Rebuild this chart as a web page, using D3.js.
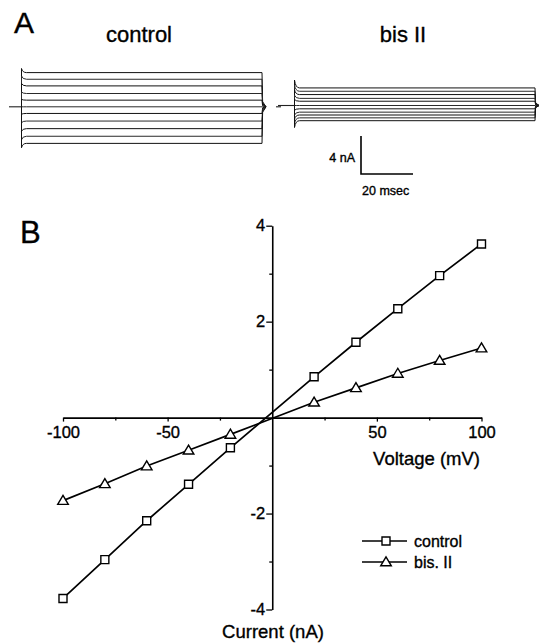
<!DOCTYPE html>
<html><head><meta charset="utf-8">
<script src="https://cdn.jsdelivr.net/npm/d3@7"></script>
<style>
body{margin:0;background:#fff}
svg{display:block}
text{font-family:"Liberation Sans",Arial,Helvetica,sans-serif;fill:#000;stroke:#000;stroke-width:0.35px}
</style>
</head><body>
<svg id="c" width="541" height="644"></svg>
<script>
// ---------- data ----------
const voltages = [-100, -80, -60, -40, -20, 20, 40, 60, 80, 100];
const controlCurrent = [-3.77, -2.96, -2.15, -1.39, -0.63, 0.85, 1.57, 2.27, 2.96, 3.62];
const bisCurrent = [-1.73, -1.38, -1.01, -0.68, -0.35, 0.32, 0.62, 0.92, 1.19, 1.45];
const seriesNames = ["control", "bis. II"];
const xTickValues = [-100, -50, 50, 100];
const xMinorTickValues = [-75, -25, 25, 75];
const yTickValues = [-4, -2, 2, 4];
const yMinorTickValues = [-3, -1, 1, 3];
const xTitle = "Voltage (mV)";
const yTitle = "Current (nA)";

// current traces (panel A), steady-state level of each voltage step, nA
const traceSteps = [100, 80, 60, 40, 20, 0, -20, -40, -60, -80, -100];
const controlTrace = [3.6, 2.9, 2.2, 1.4, 0.7, 0, -0.7, -1.5, -2.3, -3.1, -3.85];
const bisTrace = [1.85, 1.5, 1.15, 0.75, 0.45, 0, -0.35, -0.7, -1.0, -1.3, -1.6];
const traceTitles = ["control", "bis II"];
const stepDuration = [0, 92.5];   // ms
const scaleBarNA = 4;
const scaleBarMs = 20;

// ---------- drawing ----------
const svg = d3.select("#c");

// panel letters
svg.append("text").attr("x", 14).attr("y", 33).attr("font-size", 30).text("A");
svg.append("text").attr("x", 20).attr("y", 243).attr("font-size", 31).text("B");

// ----- panel A -----
const pxPerNA = 9.5;
const pxPerMs = 2.6;
function tracePanel(data, x0, holdY, spikeK, preLeft, postDash) {
  const t = d3.scaleLinear().domain(stepDuration).range([x0, x0 + (stepDuration[1]-stepDuration[0]) * pxPerMs]);
  const yT = d3.scaleLinear().domain([-1, 1]).range([holdY + pxPerNA, holdY - pxPerNA]);
  const g = svg.append("g");
  const xs = t(stepDuration[0]), xe = t(stepDuration[1]);
  g.append("line").attr("x1", preLeft).attr("x2", xs).attr("y1", yT(0)).attr("y2", yT(0))
    .attr("stroke", "#222").attr("stroke-width", 1.1);
  data.forEach((v, i) => {
    const ly = yT(v), sy = yT(v * spikeK);
    const p = d3.path();
    p.moveTo(xs, yT(0));
    p.lineTo(xs, sy);
    p.quadraticCurveTo(xs + 1, ly, xs + 5, ly);
    p.lineTo(xe, ly);
    p.lineTo(xe + 0.6, ly + (yT(0) - ly) * 0.85);
    p.lineTo(xe + 4, yT(0));
    g.append("path").attr("d", p.toString()).attr("fill", "none")
      .attr("stroke", i % 2 ? "#2a2a2a" : "#111").attr("stroke-width", 1);
  });
  if (postDash) {
    g.append("line").attr("x1", xe + 14).attr("x2", xe + 19).attr("y1", yT(0)).attr("y2", yT(0))
      .attr("stroke", "#222").attr("stroke-width", 1.1);
  }
}
tracePanel(controlTrace, 21.5, 106.8, 1.12, 9, true);
tracePanel(bisTrace, 294.5, 105.5, 1.45, 278, false);

svg.append("text").attr("x", 139).attr("y", 42).attr("font-size", 22).attr("text-anchor", "middle").text(traceTitles[0]);
svg.append("text").attr("x", 403).attr("y", 42).attr("font-size", 22).attr("text-anchor", "middle").text(traceTitles[1]);

// scale bar
{
  const bx = 361, by = 174;
  const sv = d3.scaleLinear().domain([0, scaleBarNA]).range([by, by - scaleBarNA * pxPerNA]);
  const sh = d3.scaleLinear().domain([0, scaleBarMs]).range([bx, bx + scaleBarMs * pxPerMs]);
  svg.append("path").attr("d", `M${bx},${sv(scaleBarNA)}V${sv(0)}H${sh(scaleBarMs)}`)
    .attr("fill", "none").attr("stroke", "#000").attr("stroke-width", 1.6);
  svg.append("text").attr("x", bx - 6).attr("y", 162).attr("font-size", 12.5).attr("text-anchor", "end").text(scaleBarNA + " nA");
  svg.append("text").attr("x", bx + 1).attr("y", 195).attr("font-size", 12.5).text(scaleBarMs + " msec");
}

// ----- panel B -----
const x = d3.scaleLinear().domain([-100, 100]).range([63, 481.5]);
const y = d3.scaleLinear().domain([-4, 4]).range([609.5, 225.7]);

const xAxis = svg.append("g").attr("transform", `translate(0,${y(0)})`)
  .call(d3.axisBottom(x).tickValues(xTickValues).tickSize(4).tickSizeOuter(0).tickPadding(5).tickFormat(d3.format("d")));
svg.append("g").attr("transform", `translate(0,${y(0)})`)
  .call(d3.axisBottom(x).tickValues(xMinorTickValues).tickSize(3).tickSizeOuter(0).tickFormat(""))
  .select(".domain").remove();
const yAxis = svg.append("g").attr("transform", `translate(${x(0)},0)`)
  .call(d3.axisLeft(y).tickValues(yTickValues).tickSize(6).tickSizeOuter(0).tickPadding(1).tickFormat(d3.format("d")));
svg.append("g").attr("transform", `translate(${x(0)},0)`)
  .call(d3.axisLeft(y).tickValues(yMinorTickValues).tickSize(3).tickSizeOuter(0).tickFormat(""))
  .select(".domain").remove();
svg.selectAll(".domain").attr("stroke", "#000").attr("stroke-width", 1.6);
svg.selectAll(".tick line").attr("stroke", "#000").attr("stroke-width", 1.3);
xAxis.selectAll("text").attr("font-size", 16.5).attr("fill", "#000").attr("font-family", null);
yAxis.selectAll("text").attr("font-size", 16.5).attr("fill", "#000").attr("font-family", null);
svg.selectAll(".tick text").text(function(){ return this.textContent.replace("\u2212", "-"); });

svg.append("text").attr("x", 480).attr("y", 465).attr("font-size", 18.5).attr("text-anchor", "end").text(xTitle);
svg.append("text").attr("x", 273).attr("y", 638).attr("font-size", 18.5).attr("text-anchor", "middle").text(yTitle);

const line = d3.line().x(d => x(d[0])).y(d => y(d[1]));
const ctrl = voltages.map((v, i) => [v, controlCurrent[i]]);
const bis = voltages.map((v, i) => [v, bisCurrent[i]]);
[ctrl, bis].forEach(s => {
  svg.append("path").attr("d", line(s)).attr("fill", "none").attr("stroke", "#000").attr("stroke-width", 1.7);
});
const sq = "M-4,-4H4V4H-4Z";
const tri = "M0,-5.2L5.3,3.8H-5.3Z";
function markers(data, shape) {
  svg.append("g").selectAll("path").data(data).join("path")
    .attr("transform", d => `translate(${x(d[0])},${y(d[1])})`)
    .attr("d", shape).attr("fill", "#fff").attr("stroke", "#000").attr("stroke-width", 1.4);
}
markers(ctrl, sq);
markers(bis, tri);

// legend
const lg = svg.append("g");
[[sq, 541], [tri, 562]].forEach(([shape, ly], i) => {
  lg.append("line").attr("x1", 362).attr("x2", 407).attr("y1", ly).attr("y2", ly).attr("stroke", "#000").attr("stroke-width", 1.3);
  lg.append("path").attr("transform", `translate(386,${ly})`).attr("d", shape).attr("fill", "#fff").attr("stroke", "#000").attr("stroke-width", 1.4);
  lg.append("text").attr("x", 414).attr("y", ly + 5.5).attr("font-size", 16).text(seriesNames[i]);
});
</script>
</body></html>
